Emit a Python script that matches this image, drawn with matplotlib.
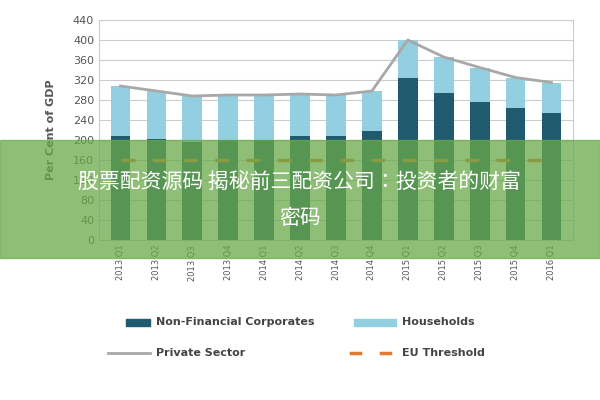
import matplotlib
matplotlib.use("Agg")
import matplotlib.pyplot as plt
from matplotlib.patches import Rectangle

quarters = ["2013 Q1","2013 Q2","2013 Q3","2013 Q4","2014 Q1","2014 Q2","2014 Q3","2014 Q4",
            "2015 Q1","2015 Q2","2015 Q3","2015 Q4","2016 Q1"]
nfc = [208, 202, 196, 200, 200, 208, 208, 218, 325, 294, 276, 264, 255]
private = [308, 298, 288, 290, 290, 292, 290, 298, 400, 366, 345, 325, 315]
households = [p - n for p, n in zip(private, nfc)]
threshold = [160]*len(quarters)
yticks = list(range(0, 441, 40))

cjk = ["Noto Sans CJK SC", "Noto Sans CJK JP", "Noto Sans CJK TC", "DejaVu Sans"]

fig = plt.figure(figsize=(6, 4), dpi=100)
ax = fig.add_axes([0.165, 0.4, 0.79, 0.55])
x = range(len(quarters))
ax.bar(x, nfc, width=0.55, color="#1f5a6e", zorder=2)
ax.bar(x, households, bottom=nfc, width=0.55, color="#92cfe0", zorder=2)
ax.plot(x, private, color="#a8a8a8", lw=2, zorder=3)
ax.plot(x, threshold, color="#e07a30", lw=2.5, dashes=(4, 5), zorder=4)
ax.set_ylim(0, 440)
ax.set_xlim(-0.6, len(quarters) - 0.4)
ax.set_yticks(yticks)
ax.set_xticks(list(x))
ax.set_xticklabels(quarters, rotation=90, fontsize=6, color="#555555")
ax.tick_params(axis="y", labelsize=8, colors="#555555", length=0)
ax.tick_params(axis="x", length=0)
ax.grid(axis="y", color="#cccccc", lw=0.8, zorder=0)
for s in ax.spines.values():
    s.set_color("#cccccc")
ax.set_ylabel("Per Cent of GDP", fontsize=8, color="#555555", fontweight="bold", labelpad=12)

fig.patches.append(Rectangle((0.21, 0.185), 0.04, 0.018, transform=fig.transFigure, color="#1f5a6e"))
fig.text(0.26, 0.194, "Non-Financial Corporates", fontsize=8, va="center", color="#444444", fontweight="bold")
fig.patches.append(Rectangle((0.59, 0.185), 0.07, 0.018, transform=fig.transFigure, color="#92cfe0"))
fig.text(0.67, 0.194, "Households", fontsize=8, va="center", color="#444444", fontweight="bold")
fig.lines.append(plt.Line2D([0.18, 0.25], [0.117, 0.117], transform=fig.transFigure, color="#a8a8a8", lw=2))
fig.text(0.26, 0.117, "Private Sector", fontsize=8, va="center", color="#444444", fontweight="bold")
fig.lines.append(plt.Line2D([0.585, 0.6], [0.117, 0.117], transform=fig.transFigure, color="#e07a30", lw=2.5))
fig.lines.append(plt.Line2D([0.635, 0.65], [0.117, 0.117], transform=fig.transFigure, color="#e07a30", lw=2.5))
fig.text(0.67, 0.117, "EU Threshold", fontsize=8, va="center", color="#444444", fontweight="bold")

fig.patches.append(Rectangle((0, 0.355), 1, 0.295, transform=fig.transFigure, color="#6aaa4a", alpha=0.75, zorder=10))
fig.text(0.5, 0.545, "股票配资源码 揭秘前三配资公司：投资者的财富", fontsize=15, ha="center", va="center",
         color="white", fontfamily=cjk, zorder=11)
fig.text(0.5, 0.455, "密码", fontsize=15, ha="center", va="center",
         color="white", fontfamily=cjk, zorder=11)
fig.savefig("out.png")
